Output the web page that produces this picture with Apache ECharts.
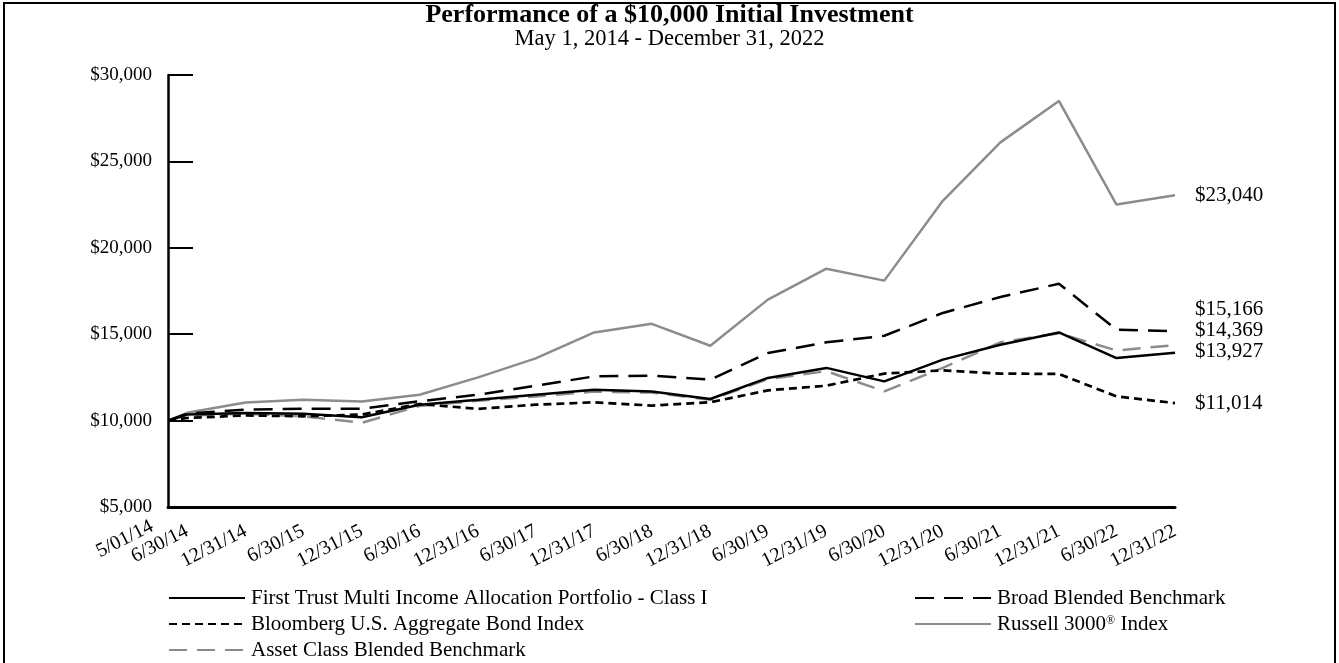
<!DOCTYPE html>
<html>
<head>
<meta charset="utf-8">
<script src="https://cdn.jsdelivr.net/npm/echarts@6/dist/echarts.min.js"></script>
<style>
html,body{margin:0;padding:0;background:#fff;}
#chart{width:1339px;height:663px;}
</style>
</head>
<body>
<div id="chart"></div>
<script>
// ---- data ----
const dates = ['2014-05-01','2014-06-30','2014-12-31','2015-06-30','2015-12-31','2016-06-30','2016-12-31','2017-06-30','2017-12-31','2018-06-30','2018-12-31','2019-06-30','2019-12-31','2020-06-30','2020-12-31','2021-06-30','2021-12-31','2022-06-30','2022-12-31'];
const tickLabels = ['5/01/14','6/30/14','12/31/14','6/30/15','12/31/15','6/30/16','12/31/16','6/30/17','12/31/17','6/30/18','12/31/18','6/30/19','12/31/19','6/30/20','12/31/20','6/30/21','12/31/21','6/30/22','12/31/22'];
const firstTrust = [10000,10350,10440,10390,10190,10920,11210,11500,11790,11690,11250,12470,13050,12270,13530,14390,15100,13620,13927];
const broadBlended = [10000,10400,10640,10690,10690,11120,11500,12020,12560,12600,12370,13910,14530,14910,16230,17150,17920,15260,15166];
const bloombergAgg = [10000,10150,10300,10250,10350,10960,10680,10920,11060,10870,11060,11750,12020,12720,12910,12720,12700,11400,11014];
const russell3000 = [10000,10450,11050,11200,11100,11500,12500,13600,15100,15600,14330,17000,18790,18100,22720,26100,28500,22500,23040];
const assetClass = [10000,10300,10400,10250,9870,10850,11150,11400,11680,11620,11200,12400,12860,11690,13050,14530,15050,14060,14369];
const yTicks = [5000,10000,15000,20000,25000,30000];

const names = {
  ft: 'First Trust Multi Income Allocation Portfolio - Class I',
  broad: 'Broad Blended Benchmark',
  agg: 'Bloomberg U.S. Aggregate Bond Index',
  r3000: 'Russell 3000® Index',
  asset: 'Asset Class Blended Benchmark'
};

// ---- build ----
// x positions are day numbers since the first date (time-proportional spacing)
function dayNum(s){ const p = s.split('-').map(Number); return Date.UTC(p[0], p[1]-1, p[2]) / 86400000; }
const day0 = dayNum(dates[0]);
const xs = dates.map(d => dayNum(d) - day0);
const labelMap = {};
xs.forEach((x,i)=>{ labelMap[x] = tickLabels[i]; });
function pairs(vals){ return vals.map((v,i)=>[xs[i], v]); }
function money(v){ return '$' + Math.round(v).toLocaleString('en-US'); }

const FONT = "'Liberation Serif','Times New Roman',serif";

function endLbl(dy){
  return {
    show: true,
    distance: 20,
    offset: [0, dy],
    fontFamily: FONT,
    fontSize: 21,
    color: '#000',
    formatter: p => money(p.value[1])
  };
}

function legendRow(name, left, centerY){
  return {
    data: [name],
    orient: 'horizontal',
    left: left, top: centerY - 11,
    padding: 0,
    itemWidth: 76, itemHeight: 14,
    itemStyle: {opacity: 0, color: 'transparent', borderWidth: 0},
    formatter: n => n.replace('®', '{sup|®}'),
    textStyle: {fontFamily: FONT, fontSize: 21, lineHeight: 22, color: '#000', padding: [0,0,0,1],
      rich: {sup: {fontFamily: FONT, fontSize: 12, color: '#000', padding: [0,0,7,0]}}}
  };
}

function xLabelBase(){
  return {fontFamily: FONT, fontSize: 20, color: '#000', rotate: 27, hideOverlap: false,
          formatter: v => labelMap[v] || ''};
}

const chart = echarts.init(document.getElementById('chart'), null, {renderer:'canvas'});
chart.setOption({
  animation: false,
  backgroundColor: '#fff',
  title: {
    text: 'Performance of a $10,000 Initial Investment',
    subtext: 'May 1, 2014 - December 31, 2022',
    left: 'center',
    top: -3,
    itemGap: 0,
    textStyle: {fontFamily: FONT, fontSize: 26, fontWeight: 'bold', color: '#000'},
    subtextStyle: {fontFamily: FONT, fontSize: 22.5, color: '#000'}
  },
  graphic: [{
    type: 'rect', silent: true, z: 100,
    shape: {x: 4, y: 3, width: 1331, height: 720},
    style: {fill: 'none', stroke: '#000', lineWidth: 2}
  }],
  legend: [
    legendRow(names.ft, 168, 598),
    legendRow(names.agg, 168, 624),
    legendRow(names.asset, 168, 650),
    legendRow(names.broad, 914, 598),
    legendRow(names.r3000, 914, 624)
  ],
  grid: {left: 168, right: 164, top: 75, bottom: 156, containLabel: false},
  xAxis: [{
    type: 'value',
    position: 'bottom',
    min: xs[0],
    max: xs[xs.length-1],
    axisLine: {show: true, lineStyle: {color: '#000', width: 3}},
    axisTick: {show: false},
    splitLine: {show: false},
    axisLabel: Object.assign(xLabelBase(), {customValues: xs.slice(1), margin: 23})
  },{
    type: 'value',
    position: 'bottom',
    min: xs[0],
    max: xs[xs.length-1],
    axisLine: {show: false},
    axisTick: {show: false},
    splitLine: {show: false},
    axisLabel: Object.assign(xLabelBase(), {customValues: [xs[0]], margin: 10, padding: [0, 18, 0, 0]})
  }],
  yAxis: {
    type: 'value',
    min: yTicks[0], max: yTicks[yTicks.length-1], interval: 5000,
    axisLine: {show: true, lineStyle: {color: '#000', width: 2.5}},
    axisTick: {show: true, inside: true, length: 25, lineStyle: {color: '#000', width: 2}},
    splitLine: {show: false},
    axisLabel: {formatter: v => money(v), margin: 16, fontFamily: FONT, fontSize: 19, color: '#000'}
  },
  series: [
    {name: names.r3000, type: 'line', data: pairs(russell3000), symbol: 'none',
     lineStyle: {color: '#8c8c8c', width: 2.5, type: 'solid'}, itemStyle: {color: '#8c8c8c'},
     endLabel: endLbl(0)},
    {name: names.asset, type: 'line', data: pairs(assetClass), symbol: 'none',
     lineStyle: {color: '#8c8c8c', width: 2.5, type: [18, 10]}, itemStyle: {color: '#8c8c8c'},
     endLabel: endLbl(-15)},
    {name: names.agg, type: 'line', data: pairs(bloombergAgg), symbol: 'none',
     lineStyle: {color: '#000', width: 2.7, type: [8, 5]}, itemStyle: {color: '#000'},
     endLabel: endLbl(0)},
    {name: names.broad, type: 'line', data: pairs(broadBlended), symbol: 'none',
     lineStyle: {color: '#000', width: 2.5, type: [19, 10]}, itemStyle: {color: '#000'},
     endLabel: endLbl(-22)},
    {name: names.ft, type: 'line', data: pairs(firstTrust), symbol: 'none',
     lineStyle: {color: '#000', width: 2.5, type: 'solid'}, itemStyle: {color: '#000'},
     endLabel: endLbl(-1)}
  ]
});
</script>
</body>
</html>
